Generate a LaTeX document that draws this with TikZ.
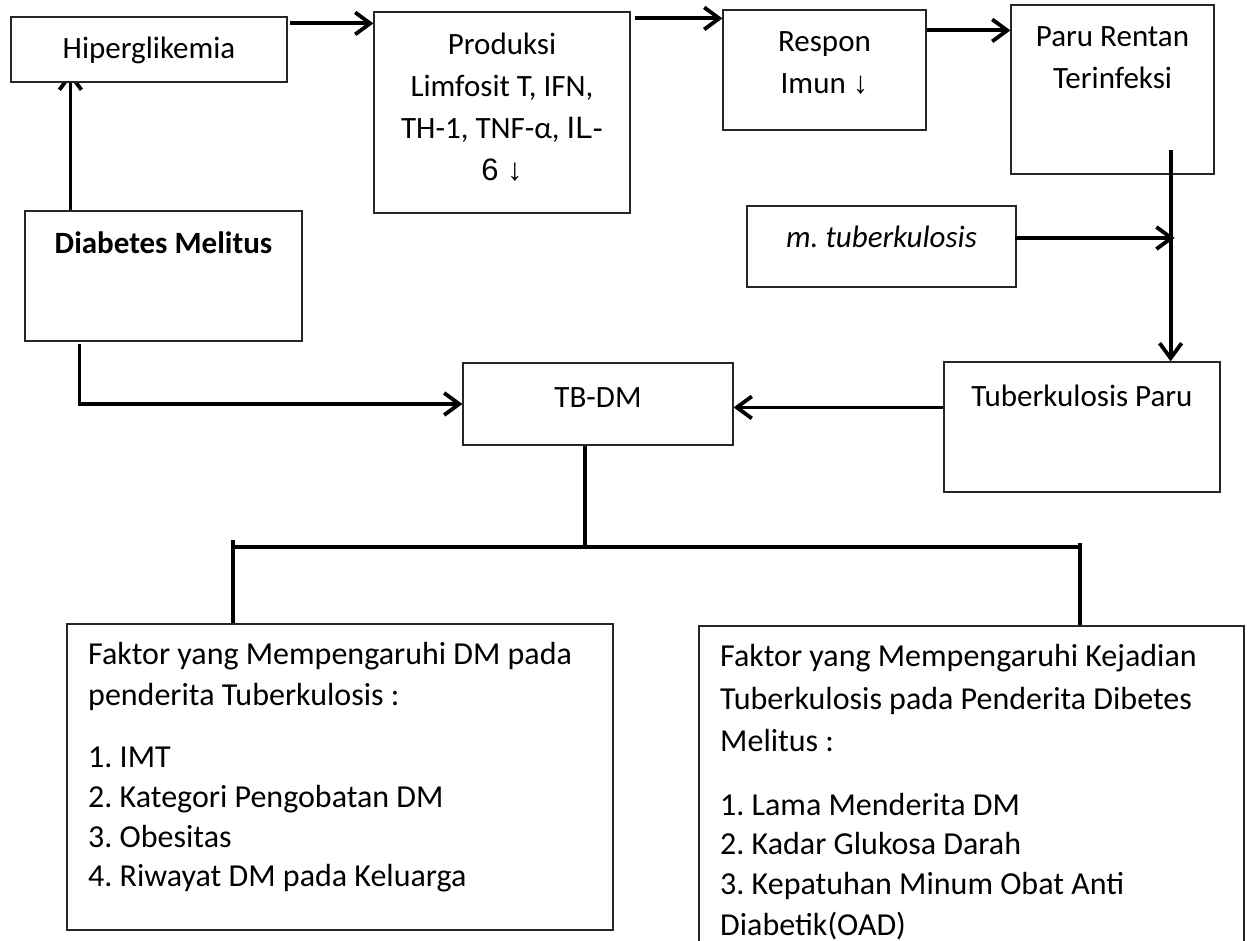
\documentclass[tikz,border=0pt]{standalone}
\usepackage{fontspec}
\setmainfont{Carlito}
\newfontfamily\arialf{Liberation Sans}
\usetikzlibrary{arrows.meta,backgrounds}
\frenchspacing
\tikzset{
  box/.style={draw=black!85, line width=1.2pt, fill=white, inner sep=0pt, rectangle},
  txt/.style={inner sep=0pt, font=\fontsize{31}{42}\selectfont\frenchspacing, align=center},
  listtxt/.style={inner sep=0pt, font=\fontsize{32}{40}\selectfont\frenchspacing, align=left, anchor=north west},
  conn/.style={line width=3.8pt, -{Straight Barb[length=15pt,width=22pt]}},
  plainline/.style={line width=3.8pt},
}
\begin{document}
\begin{tikzpicture}[x=1pt, y=-1pt]
\useasboundingbox (0,0) rectangle (1250,941);

% boxes
\node[box, minimum width=276pt, minimum height=65pt]  (hip)  at (149,49.5) {};
\node[box, minimum width=256pt, minimum height=201pt] (prod) at (502,112.5) {};
\node[box, minimum width=203pt, minimum height=120pt] (resp) at (824.5,70) {};
\node[box, minimum width=203pt, minimum height=169pt] (paru) at (1112.5,89.5) {};
\node[box, minimum width=269pt, minimum height=81pt]  (mtb)  at (881.5,246.5) {};
\node[box, minimum width=277pt, minimum height=130pt] (dm)   at (163.5,276) {};
\node[box, minimum width=270pt, minimum height=82pt]  (tbdm) at (598,404) {};
\node[box, minimum width=276pt, minimum height=130pt] (tub)  at (1082,427) {};
\node[box, minimum width=546pt, minimum height=306pt] (lbox) at (340,777) {};
\node[box, minimum width=545pt, minimum height=334pt] (rbox) at (971.5,793) {};

% texts
\node[txt, anchor=base] (hipT) at (149,59) {Hiperglikemia};
\node[txt] (prodT) at (502,107) {Produksi\\Limfosit T, IFN,\\TH-1, TNF-α, {\arialf IL-}\\{\arialf 6 ↓}};
\node[txt] (respT) at (824.5,63) {Respon\\Imun {\arialf ↓}};
\node[txt] (paruT) at (1112.5,58) {Paru Rentan\\Terinfeksi};
\node[txt, anchor=base] (mtbT) at (881.5,248) {\itshape m. tuberkulosis};
\node[txt, anchor=base] (dmT) at (163.5,254) {\bfseries Diabetes Melitus};
\node[txt, anchor=base] (tbdmT) at (598,407) {TB-DM};
\node[txt, anchor=base] (tubT) at (1082,406) {Tuberkulosis Paru};
\node[listtxt] (lboxT) at (88,642.5) {Faktor yang Mempengaruhi DM pada\\[1pt]penderita Tuberkulosis :\\[22pt]1. IMT\\2. Kategori Pengobatan DM\\3. Obesitas\\[-1pt]4. Riwayat DM pada Keluarga};
\node[listtxt] (rboxT) at (720,644) {Faktor yang Mempengaruhi Kejadian\\[3pt]Tuberkulosis pada Penderita Dibetes\\[2pt]Melitus :\\[24pt]1. Lama Menderita DM\\[-1pt]2. Kadar Glukosa Darah\\3. Kepatuhan Minum Obat Anti\\[1pt]Diabetik(OAD)};

% connectors
\begin{pgfonlayer}{background}
\fill[white] (0,0) rectangle (1250,941);
\draw[conn] ([xshift=46pt]dm.north west) -- ([xshift=46pt]dm.north west |- hip.south) -- ++(0,-11);
\end{pgfonlayer}
\draw[conn] ([xshift=2pt,yshift=-7pt]hip.north east) -- ([yshift=-7pt]hip.north east -| prod.west);
\draw[conn] ([xshift=4pt,yshift=-7pt]prod.north east) -- ([yshift=-7pt]prod.north east -| resp.west);
\draw[conn] ([yshift=-21pt]resp.north east) -- ([yshift=-21pt]resp.north east -| paru.west);
\coordinate (pl) at ([xshift=-44pt,yshift=25pt]paru.south east);
\draw[conn] (pl) -- (pl |- tub.north);
\draw[conn] ([xshift=-2pt,yshift=8.5pt]mtb.east) -- ([xshift=4pt,yshift=8.5pt]mtb.east -| pl);
\draw[conn] ([yshift=-46pt]tub.north west) -- ([yshift=-46pt]tub.north west -| tbdm.east);
\draw[conn] ([xshift=55pt,yshift=-2pt]dm.south west) |- (tbdm.west);
\coordinate (barL) at (233,547);
\coordinate (barR) at (1080,547);
\draw[plainline] ([xshift=-13pt]tbdm.south) -- ([xshift=-13pt]tbdm.south |- barL);
\draw[plainline] (barL) -- (barR);
\draw[plainline] ([yshift=7pt]barL) -- (barL |- lbox.north);
\draw[plainline] ([yshift=4pt]barR) -- (barR |- rbox.north);
\end{tikzpicture}
\end{document}
